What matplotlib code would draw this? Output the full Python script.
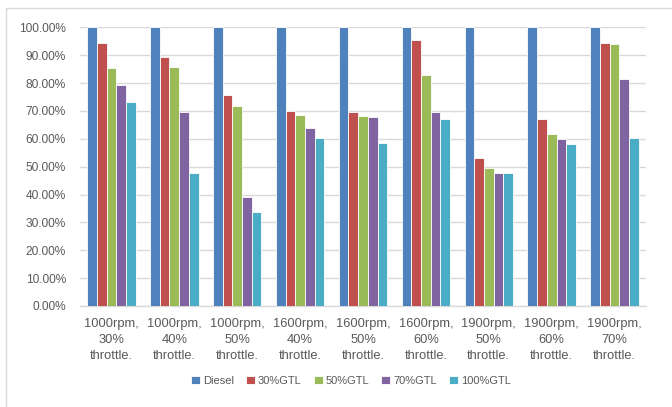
import numpy as np
import matplotlib.pyplot as plt
from matplotlib.ticker import PercentFormatter
from matplotlib.patches import Rectangle

# warunki pracy silnika
conditions = ["1000rpm,\n30%\nthrottle.", "1000rpm,\n40%\nthrottle.", "1000rpm,\n50%\nthrottle.",
              "1600rpm,\n40%\nthrottle.", "1600rpm,\n50%\nthrottle.", "1600rpm,\n60%\nthrottle.",
              "1900rpm,\n50%\nthrottle.", "1900rpm,\n60%\nthrottle.", "1900rpm,\n70%\nthrottle."]

fuels = ["Diesel", "30%GTL", "50%GTL", "70%GTL", "100%GTL"]

# wartosci wzgledne (diesel = 100%)
diesel = [100, 100, 100, 100, 100, 100, 100, 100, 100]
gtl30 = [94.3, 89.3, 75.7, 70.0, 69.6, 95.4, 53.0, 67.0, 94.5]
gtl50 = [85.5, 85.6, 71.6, 68.5, 68.3, 82.8, 49.5, 61.6, 93.9]
gtl70 = [79.4, 69.6, 39.1, 63.8, 67.7, 69.7, 47.7, 59.8, 81.5]
gtl100 = [73.3, 47.8, 33.7, 60.4, 58.6, 67.1, 47.6, 58.0, 60.4]

colors = ["#4F81BD", "#C0504D", "#9BBB59", "#8064A2", "#4BACC6"]

plt.rcParams['font.family'] = ['Liberation Sans', 'DejaVu Sans']

fig = plt.figure(figsize=(6.72, 4.07), dpi=100)
fig.patches.append(Rectangle((6 / 672, -0.1), 1.1, 1 - 8 / 407 + 0.1, transform=fig.transFigure,
                             fill=False, edgecolor="#D9D9D9", linewidth=1.0))
ax = fig.add_axes([80 / 672, 1 - 306 / 407, 566 / 672, (306 - 27.3) / 407])

x = np.arange(len(conditions))
series = [diesel, gtl30, gtl50, gtl70, gtl100]
w = 0.154
for i, (vals, c, name) in enumerate(zip(series, colors, fuels)):
    ax.bar(x + (i - 2) * w, vals, width=w, color=c, edgecolor="white", linewidth=0.6,
           label=name, zorder=3)

ax.set_xlim(-0.5, len(conditions) - 0.5)
ax.set_ylim(0, 100)
ax.set_yticks(np.arange(0, 101, 10))
ax.yaxis.set_major_formatter(PercentFormatter(100, decimals=2))
ax.set_xticks(x)
ax.set_xticklabels(conditions, linespacing=1.4, fontsize=9.3)
ax.grid(axis="y", color="#D9D9D9", linewidth=1.0, zorder=0)
for s in ["top", "right", "left"]:
    ax.spines[s].set_visible(False)
ax.spines["bottom"].set_color("#D9D9D9")
ax.spines["bottom"].set_linewidth(1.0)
ax.tick_params(axis="both", length=0, labelcolor="#595959")
ax.tick_params(axis="y", pad=10, labelsize=8.6)
ax.tick_params(axis="x", pad=9)

fig.legend(loc="center", bbox_to_anchor=(351 / 672, 1 - 381 / 407), ncol=5, frameon=False,
           fontsize=8, labelcolor="#595959", handlelength=0.8, handleheight=0.8,
           handletextpad=0.25, columnspacing=1.1)

fig.savefig("out.png", dpi=100)
